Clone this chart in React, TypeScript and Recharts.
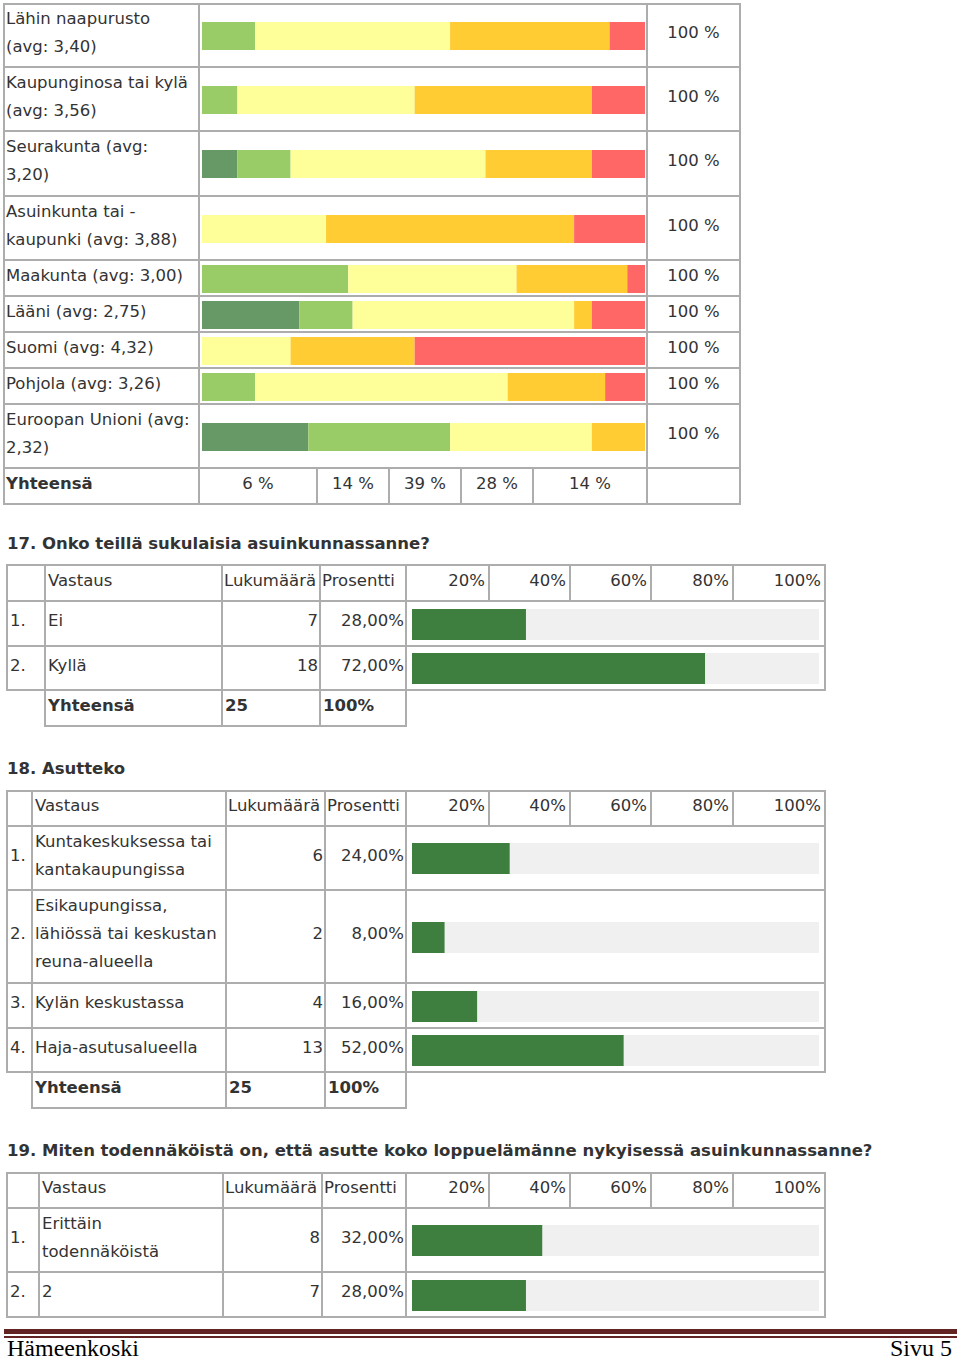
import React from 'react';
import { BarChart, Bar, XAxis, YAxis } from 'recharts';

// --- matrix question (share of answers 1..5 per area, %) ---
const areaLabels = [
  ['Lähin naapurusto', '(avg: 3,40)'],
  ['Kaupunginosa tai kylä', '(avg: 3,56)'],
  ['Seurakunta (avg:', '3,20)'],
  ['Asuinkunta tai -', 'kaupunki (avg: 3,88)'],
  ['Maakunta (avg: 3,00)'],
  ['Lääni (avg: 2,75)'],
  ['Suomi (avg: 4,32)'],
  ['Pohjola (avg: 3,26)'],
  ['Euroopan Unioni (avg:', '2,32)'],
];
const share1 = [0, 0, 8, 0, 0, 22, 0, 0, 24];
const share2 = [12, 8, 12, 0, 33, 12, 0, 12, 32];
const share3 = [44, 40, 44, 28, 38, 50, 20, 57, 32];
const share4 = [36, 40, 24, 56, 25, 4, 28, 22, 12];
const share5 = [8, 12, 12, 16, 4, 12, 52, 9, 0];
const rowTotals = ['100 %', '100 %', '100 %', '100 %', '100 %', '100 %', '100 %', '100 %', '100 %'];
const totalShares = ['6 %', '14 %', '39 %', '28 %', '14 %'];

// --- single choice questions ---
const scaleTicks = ['20%', '40%', '60%', '80%', '100%'];

const q17Answers = [['Ei'], ['Kyllä']];
const q17Counts = [7, 18];
const q17Pct = [28, 72];

const q18Answers = [
  ['Kuntakeskuksessa tai', 'kantakaupungissa'],
  ['Esikaupungissa,', 'lähiössä tai keskustan', 'reuna-alueella'],
  ['Kylän keskustassa'],
  ['Haja-asutusalueella'],
];
const q18Counts = [6, 2, 4, 13];
const q18Pct = [24, 8, 16, 52];

const q19Answers = [['Erittäin', 'todennäköistä'], ['2']];
const q19Counts = [8, 7];
const q19Pct = [32, 28];

const LINE = '#adadad';
const TEXT = '#333333';
const scaleColors = ['#669966', '#99cc66', '#ffff99', '#ffcc33', '#ff6666'];
const GREEN = '#3e7e3e';
const TRACK = '#f0f0f0';
const FONT = '"DejaVu Sans", Verdana, sans-serif';

type Align = 'left' | 'right' | 'center';

interface TCellProps {
  x0: number; x1: number; y0: number; y1: number;
  lines?: string[]; align?: Align; bold?: boolean; border?: boolean; pad?: number;
}

const TCell: React.FC<TCellProps> = ({ x0, x1, y0, y1, lines = [], align = 'left', bold, border = true, pad = 1 }) => (
  <div
    style={{
      position: 'absolute', left: x0 - 1, top: y0 - 1, width: x1 - x0 + 2, height: y1 - y0 + 2,
      boxSizing: 'border-box', border: border ? `2px solid ${LINE}` : '2px solid transparent',
      display: 'flex', flexDirection: 'column', justifyContent: 'center',
      alignItems: align === 'left' ? 'flex-start' : align === 'right' ? 'flex-end' : 'center',
      padding: `0 ${pad}px 5px ${pad}px`, fontWeight: bold ? 'bold' : 'normal',
    }}
  >
    {lines.map((l, i) => (
      <div key={i} style={{ lineHeight: '28px', whiteSpace: 'nowrap' }}>{l}</div>
    ))}
  </div>
);

const shares = [share1, share2, share3, share4, share5];

const StackBar: React.FC<{ row: number; left: number; top: number }> = ({ row, left, top }) => {
  const d: Record<string, number | string> = { name: areaLabels[row].join(' ') };
  shares.forEach((s, i) => { d[`s${i + 1}`] = s[row]; });
  return (
    <div style={{ position: 'absolute', left, top }}>
      <BarChart width={443} height={28} data={[d]} layout="vertical"
        margin={{ top: 0, right: 0, bottom: 0, left: 0 }} barCategoryGap={0}>
        <XAxis type="number" domain={[0, 100]} hide />
        <YAxis type="category" dataKey="name" hide />
        {scaleColors.map((c, i) => (
          <Bar key={i} dataKey={`s${i + 1}`} stackId="a" fill={c} isAnimationActive={false} />
        ))}
      </BarChart>
    </div>
  );
};

const PctBar: React.FC<{ name: string; value: number; left: number; top: number }> = ({ name, value, left, top }) => (
  <div style={{ position: 'absolute', left, top }}>
    <BarChart width={407} height={31} data={[{ name, v: value }]} layout="vertical"
      margin={{ top: 0, right: 0, bottom: 0, left: 0 }} barCategoryGap={0}>
      <XAxis type="number" domain={[0, 100]} hide />
      <YAxis type="category" dataKey="name" hide />
      <Bar dataKey="v" fill={GREEN} background={{ fill: TRACK }} isAnimationActive={false} />
    </BarChart>
  </div>
);

const topCols = [4, 199, 647, 740];
const topRows = [4, 67, 131, 196, 260, 296, 332, 368, 404, 468, 504];
const totalCols = [4, 199, 317, 389, 461, 533, 647, 740];

const MatrixTable = () => (
  <>
    {areaLabels.map((lab, i) => {
      const y0 = topRows[i];
      const y1 = topRows[i + 1];
      return (
        <React.Fragment key={i}>
          <TCell x0={topCols[0]} x1={topCols[1]} y0={y0} y1={y1} lines={lab} />
          <TCell x0={topCols[1]} x1={topCols[2]} y0={y0} y1={y1} />
          <StackBar row={i} left={topCols[1] + 3} top={Math.round((y0 + y1) / 2 - 14 + 0.5)} />
          <TCell x0={topCols[2]} x1={topCols[3]} y0={y0} y1={y1} lines={[rowTotals[i]]} align="center" />
        </React.Fragment>
      );
    })}
    <TCell x0={totalCols[0]} x1={totalCols[1]} y0={topRows[9]} y1={topRows[10]} lines={['Yhteensä']} bold />
    {totalShares.map((t, i) => (
      <TCell key={i} x0={totalCols[i + 1]} x1={totalCols[i + 2]} y0={topRows[9]} y1={topRows[10]} lines={[t]} align="center" />
    ))}
    <TCell x0={totalCols[6]} x1={totalCols[7]} y0={topRows[9]} y1={topRows[10]} />
  </>
);

const chartCols = [406, 489, 570, 651, 733, 825];

interface QProps {
  title: string; titleY: number; cols: number[]; rows: number[];
  answers: string[][]; counts: number[]; pcts: number[]; showTotal: boolean;
}

const fmtPct = (p: number) => `${p.toFixed(2).replace('.', ',')}%`;

const QTable: React.FC<QProps> = ({ title, titleY, cols, rows, answers, counts, pcts, showTotal }) => {
  const total = counts.reduce((a, b) => a + b, 0);
  const last = rows[answers.length + 1];
  return (
    <>
      <div style={{ position: 'absolute', left: 7, top: titleY - 14, lineHeight: '28px', fontWeight: 'bold', whiteSpace: 'nowrap' }}>
        {title}
      </div>
      <TCell x0={cols[0]} x1={cols[1]} y0={rows[0]} y1={rows[1]} />
      <TCell x0={cols[1]} x1={cols[2]} y0={rows[0]} y1={rows[1]} lines={['Vastaus']} pad={2} />
      <TCell x0={cols[2]} x1={cols[3]} y0={rows[0]} y1={rows[1]} lines={['Lukumäärä']} />
      <TCell x0={cols[3]} x1={cols[4]} y0={rows[0]} y1={rows[1]} lines={['Prosentti']} />
      {scaleTicks.map((t, i) => (
        <TCell key={t} x0={chartCols[i]} x1={chartCols[i + 1]} y0={rows[0]} y1={rows[1]} lines={[t]} align="right" pad={3} />
      ))}
      {answers.map((a, i) => {
        const y0 = rows[i + 1];
        const y1 = rows[i + 2];
        return (
          <React.Fragment key={i}>
            <TCell x0={cols[0]} x1={cols[1]} y0={y0} y1={y1} lines={[`${i + 1}.`]} pad={2} />
            <TCell x0={cols[1]} x1={cols[2]} y0={y0} y1={y1} lines={a} pad={2} />
            <TCell x0={cols[2]} x1={cols[3]} y0={y0} y1={y1} lines={[String(counts[i])]} align="right" />
            <TCell x0={cols[3]} x1={cols[4]} y0={y0} y1={y1} lines={[fmtPct(pcts[i])]} align="right" />
            <TCell x0={chartCols[0]} x1={chartCols[5]} y0={y0} y1={y1} />
            <PctBar name={a.join(' ')} value={pcts[i]} left={chartCols[0] + 6} top={Math.round((y0 + y1) / 2 - 15.5 + 0.5)} />
          </React.Fragment>
        );
      })}
      {showTotal && (
        <>
          <TCell x0={cols[1]} x1={cols[2]} y0={last} y1={rows[answers.length + 2]} lines={['Yhteensä']} bold pad={2} />
          <TCell x0={cols[2]} x1={cols[3]} y0={last} y1={rows[answers.length + 2]} lines={[String(total)]} bold pad={2} />
          <TCell x0={cols[3]} x1={cols[4]} y0={last} y1={rows[answers.length + 2]} lines={['100%']} bold pad={2} />
        </>
      )}
    </>
  );
};

const footerText: React.CSSProperties = {
  position: 'absolute', top: 1335, fontFamily: '"Liberation Serif", serif', fontSize: 24,
  lineHeight: 'normal', color: '#000', whiteSpace: 'nowrap',
};

const App = () => (
  <div style={{
    position: 'absolute', left: 0, top: 0, width: 960, height: 1363, overflow: 'hidden', background: '#fff',
    fontFamily: FONT, fontSize: 16.5, color: TEXT,
  }}>
    <MatrixTable />
    <QTable title="17. Onko teillä sukulaisia asuinkunnassanne?" titleY={544}
      cols={[7, 45, 222, 320, 406]} rows={[565, 601, 646, 690, 726]}
      answers={q17Answers} counts={q17Counts} pcts={q17Pct} showTotal />
    <QTable title="18. Asutteko" titleY={769}
      cols={[7, 32, 226, 325, 406]} rows={[791, 826, 890, 983, 1028, 1072, 1108]}
      answers={q18Answers} counts={q18Counts} pcts={q18Pct} showTotal />
    <QTable title="19. Miten todennäköistä on, että asutte koko loppuelämänne nykyisessä asuinkunnassanne?" titleY={1151}
      cols={[7, 39, 223, 322, 406]} rows={[1173, 1208, 1272, 1317]}
      answers={q19Answers} counts={q19Counts} pcts={q19Pct} showTotal={false} />
    <div style={{ position: 'absolute', left: 4, top: 1329, width: 953, height: 5, background: '#622423' }} />
    <div style={{ position: 'absolute', left: 4, top: 1336, width: 953, height: 1.5, background: '#622423' }} />
    <div style={{ ...footerText, left: 7 }}>Hämeenkoski</div>
    <div style={{ ...footerText, right: 8 }}>Sivu 5</div>
  </div>
);

export default App;
